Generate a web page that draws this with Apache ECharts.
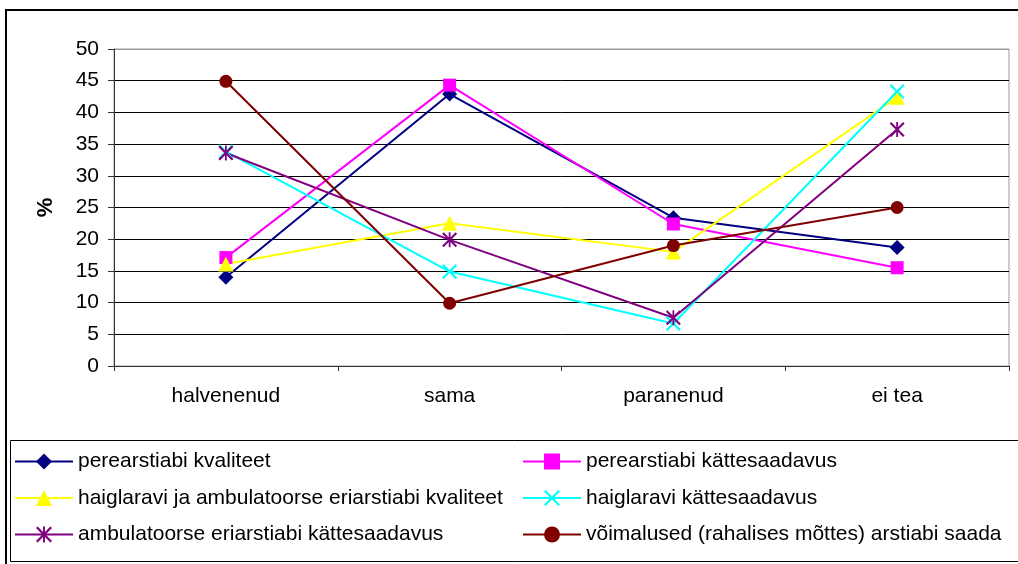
<!DOCTYPE html>
<html>
<head>
<meta charset="utf-8">
<script src="https://cdn.jsdelivr.net/npm/echarts@6/dist/echarts.min.js"></script>
<style>
  html, body { margin: 0; padding: 0; background: #fff; }
  #chart { width: 1018px; height: 564px; }
</style>
</head>
<body>
<div id="chart"></div>
<script>
  var categories = ["halvenenud", "sama", "paranenud", "ei tea"];

  var seriesNames = [
    "perearstiabi kvaliteet",
    "perearstiabi kättesaadavus",
    "haiglaravi ja ambulatoorse eriarstiabi kvaliteet",
    "haiglaravi kättesaadavus",
    "ambulatoorse eriarstiabi kättesaadavus",
    "võimalused (rahalises mõttes) arstiabi saada"
  ];

  var perearstKvaliteet = [14.0, 42.9, 23.4, 18.7];
  var perearstKattesaadavus = [17.1, 44.3, 22.4, 15.5];
  var haiglaKvaliteet = [16.1, 22.5, 18.0, 42.4];
  var haiglaKattesaadavus = [33.8, 14.9, 6.7, 43.3];
  var ambulatoorneKattesaadavus = [33.6, 19.9, 7.6, 37.3];
  var voimalused = [44.9, 9.9, 19.0, 25.0];

  var yTicks = { min: 0, max: 50, interval: 5 };

  var crossPath = 'path://M0,0.1L0.1,0L0.5,0.4L0.9,0L1,0.1L0.6,0.5L1,0.9L0.9,1L0.5,0.6L0.1,1L0,0.9L0.4,0.5Z';
  var starPath = 'path://M0,0.1L0.1,0L0.5,0.4L0.9,0L1,0.1L0.6,0.5L1,0.9L0.9,1L0.5,0.6L0.1,1L0,0.9L0.4,0.5Z' +
                 'M0.44,0L0.56,0L0.56,1L0.44,1Z';

  var font = '"Liberation Sans", Arial, sans-serif';
  var fontSize = 21;

  function makeSeries(name, data, color, symbol, size) {
    return {
      name: name,
      type: 'line',
      data: data,
      symbol: symbol,
      symbolSize: size,
      lineStyle: { color: color, width: 2 },
      itemStyle: { color: color },
      emphasis: { disabled: true }
    };
  }

  var chart = echarts.init(document.getElementById('chart'));

  // last split line (at 50) is the grey plot border
  var gridLineColors = [];
  for (var i = 0; i < 10; i++) gridLineColors.push('#000');
  gridLineColors.push('#999');

  var legendText = { fontSize: fontSize, color: '#000', lineHeight: 20, fontFamily: font };

  chart.setOption({
    animation: false,
    backgroundColor: '#fff',
    textStyle: { fontFamily: font },
    graphic: [
      {
        type: 'rect',
        shape: { x: 6, y: 10, width: 1030, height: 580 },
        style: { fill: 'none', stroke: '#000', lineWidth: 2 },
        silent: true, z: -1
      },
      {
        type: 'rect',
        shape: { x: 10.5, y: 440.5, width: 1030, height: 121 },
        style: { fill: 'none', stroke: '#000', lineWidth: 1 },
        silent: true, z: -1
      }
    ],
    grid: {
      left: 114, top: 49, right: 9, bottom: 198,
      show: true, borderColor: '#999', borderWidth: 1
    },
    legend: [
      {
        orient: 'vertical',
        left: 14, top: 451,
        padding: 0,
        itemWidth: 58, itemHeight: 20,
        itemGap: 15.5,
        textStyle: legendText,
        data: [seriesNames[0], seriesNames[2], seriesNames[4]]
      },
      {
        orient: 'vertical',
        left: 522, top: 451,
        padding: 0,
        itemWidth: 58, itemHeight: 20,
        itemGap: 15.5,
        textStyle: legendText,
        data: [seriesNames[1], seriesNames[3], seriesNames[5]]
      }
    ],
    xAxis: {
      type: 'category',
      data: categories,
      boundaryGap: true,
      axisLine: { lineStyle: { color: '#333', width: 1 } },
      axisTick: { show: true, length: 5, lineStyle: { color: '#333' } },
      axisLabel: { color: '#000', fontSize: fontSize, margin: 20, fontFamily: font },
      splitLine: { show: false }
    },
    yAxis: {
      type: 'value',
      min: yTicks.min, max: yTicks.max, interval: yTicks.interval,
      name: '%',
      nameLocation: 'middle',
      nameRotate: 90,
      nameGap: 57,
      nameTextStyle: { color: '#000', fontSize: 22, fontWeight: 'bold', fontFamily: font },
      axisLine: { show: true, lineStyle: { color: '#333', width: 1 } },
      axisTick: { show: true, length: 6, lineStyle: { color: '#333' } },
      axisLabel: { color: '#000', fontSize: fontSize, margin: 15, fontFamily: font },
      splitLine: { show: true, lineStyle: { color: gridLineColors, width: 1 } }
    },
    series: [
      makeSeries(seriesNames[0], perearstKvaliteet, '#000080', 'diamond', 15),
      makeSeries(seriesNames[1], perearstKattesaadavus, '#FF00FF', 'rect', 13),
      makeSeries(seriesNames[2], haiglaKvaliteet, '#FFFF00', 'triangle', 15),
      makeSeries(seriesNames[3], haiglaKattesaadavus, '#00FFFF', crossPath, 15),
      makeSeries(seriesNames[4], ambulatoorneKattesaadavus, '#800080', starPath, 15),
      makeSeries(seriesNames[5], voimalused, '#800000', 'circle', 13)
    ]
  });
</script>
</body>
</html>
